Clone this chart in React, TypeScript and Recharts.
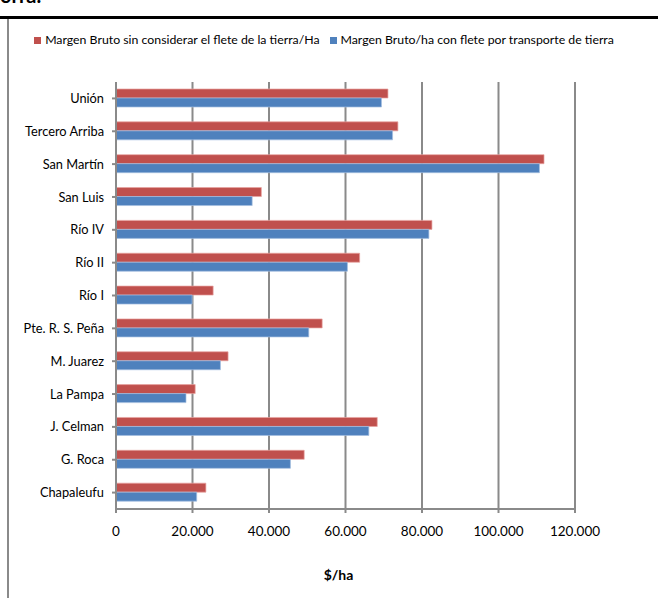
import React from 'react';
import { BarChart, Bar, XAxis, YAxis, CartesianGrid, Legend, Label } from 'recharts';

const categories = [
  'Unión', 'Tercero Arriba', 'San Martín', 'San Luis', 'Río IV', 'Río II', 'Río I',
  'Pte. R. S. Peña', 'M. Juarez', 'La Pampa', 'J. Celman', 'G. Roca', 'Chapaleufu',
];
const sinFlete = [71100, 73700, 111900, 38000, 82600, 63700, 25400, 53900, 29300, 20700, 68300, 49200, 23500];
const conFlete = [69400, 72300, 110700, 35600, 81800, 60500, 19900, 50400, 27300, 18300, 66100, 45600, 21100];
const xTicks = [0, 20000, 40000, 60000, 80000, 100000, 120000];

const SERIES_A = 'Margen Bruto sin considerar el flete de la tierra/Ha';
const SERIES_B = 'Margen Bruto/ha con flete por transporte de tierra';

const data = categories.map((c, i) => ({ name: c, a: sinFlete[i], b: conFlete[i] }));

const fmt = (v: number) => (v === 0 ? '0' : v.toLocaleString('de-DE'));

const FONT = 'Lato, "Liberation Sans", sans-serif';

export default function App() {
  return (
    <div style={{ position: 'absolute', left: 0, top: 0, width: 658, height: 598, overflow: 'hidden', background: '#fff', fontFamily: FONT }}>
      <div style={{ position: 'absolute', left: 0, top: -15, fontSize: 20, fontWeight: 700, color: '#000', lineHeight: '20px' }}>orra.</div>
      <div style={{ position: 'absolute', left: 0, top: 16, width: 658, height: 3, background: '#000' }} />
      <div style={{ position: 'absolute', left: 7, top: 19, width: 2, height: 579, background: '#8a8a8a' }} />
      <div style={{ position: 'absolute', left: 0, top: 0 }}>
        <BarChart
          width={658}
          height={598}
          data={data}
          layout="vertical"
          margin={{ top: 67, right: 83, bottom: 0, left: 0 }}
          barGap={0}
          barSize={9}
        >
          <CartesianGrid horizontal={false} vertical={true} stroke="#8a8a8a" strokeWidth={2} />
          <XAxis
            type="number"
            domain={[0, 120000]}
            ticks={xTicks}
            tickFormatter={fmt}
            interval={0}
            height={89}
            tickSize={4}
            tickMargin={13}
            axisLine={{ stroke: '#8a8a8a', strokeWidth: 2 }}
            tickLine={{ stroke: '#8a8a8a', strokeWidth: 2 }}
            tick={{ fill: '#000', fontSize: 13.5, fontFamily: FONT }}
          >
            <Label
              value="$/ha"
              position="insideBottom"
              offset={18}
              dx={-7}
              style={{ fill: '#000', fontSize: 14, fontWeight: 700, fontFamily: FONT }}
            />
          </XAxis>
          <YAxis
            type="category"
            dataKey="name"
            width={116}
            interval={0}
            tickSize={4}
            tickMargin={8}
            axisLine={{ stroke: '#8a8a8a', strokeWidth: 2 }}
            tickLine={{ stroke: '#8a8a8a', strokeWidth: 2 }}
            tick={{ fill: '#000', fontSize: 12.8, fontFamily: FONT }}
          />
          <Legend
            verticalAlign="top"
            align="center"
            iconType="square"
            iconSize={7}
            wrapperStyle={{ top: 32, left: 4, width: 650, fontSize: 12.3, fontFamily: FONT, color: '#000', lineHeight: '15px' }}
            formatter={(v: string) => <span style={{ color: '#000' }}>{v}</span>}
          />
          <Bar dataKey="a" name={SERIES_A} fill="#C0504D" stroke="#e8a3a1" strokeWidth={0.7} isAnimationActive={false} />
          <Bar dataKey="b" name={SERIES_B} fill="#4F81BD" stroke="#a3bde0" strokeWidth={0.7} isAnimationActive={false} />
        </BarChart>
      </div>
    </div>
  );
}
